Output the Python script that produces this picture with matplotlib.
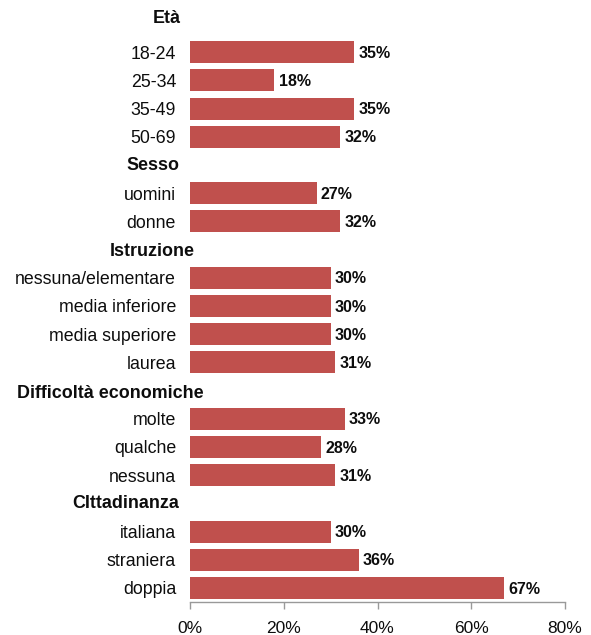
import matplotlib
matplotlib.use("Agg")
import matplotlib.pyplot as plt
import matplotlib.transforms as mtransforms

plt.rcParams['font.family'] = ['Liberation Sans', 'DejaVu Sans']

# Group headers and the rows beneath each
groups = ["Età", "Sesso", "Istruzione", "Difficoltà economiche", "CIttadinanza"]
eta_labels = ["18-24", "25-34", "35-49", "50-69"]
eta_values = [35, 18, 35, 32]
sesso_labels = ["uomini", "donne"]
sesso_values = [27, 32]
istruzione_labels = ["nessuna/elementare", "media inferiore", "media superiore", "laurea"]
istruzione_values = [30, 30, 30, 31]
difficolta_labels = ["molte", "qualche", "nessuna"]
difficolta_values = [33, 28, 31]
cittadinanza_labels = ["italiana", "straniera", "doppia"]
cittadinanza_values = [30, 36, 67]

x_ticks = [0, 20, 40, 60, 80]
x_tick_labels = ["0%", "20%", "40%", "60%", "80%"]

blocks = [
    (eta_labels, eta_values),
    (sesso_labels, sesso_values),
    (istruzione_labels, istruzione_values),
    (difficolta_labels, difficolta_values),
    (cittadinanza_labels, cittadinanza_values),
]

# header horizontal placement (figure pixels from left) and small vertical nudge
header_x_px = [153, 126, 110, 17, 72]
header_dy = [-0.2, 0.0, 0.05, 0.1, 0.0]

bar_color = "#C0504D"
text_color = "#0d0d0d"
W, H = 591, 635
fig = plt.figure(figsize=(W / 100, H / 100), dpi=100)
ax = fig.add_axes([190 / W, (H - 602) / H, 375 / W, 592 / H])

pos = 0
header_pos = []
bar_pos, bar_vals, bar_labels = [], [], []
for labels, values in blocks:
    header_pos.append(pos)
    pos += 1
    for lab, v in zip(labels, values):
        bar_pos.append(pos)
        bar_vals.append(v)
        bar_labels.append(lab)
        pos += 1

ax.barh(bar_pos, bar_vals, height=0.78, color=bar_color, zorder=2)
for p, v in zip(bar_pos, bar_vals):
    ax.text(v + 0.9, p + 0.04, f"{v}%", va="center", ha="left", fontsize=11.5,
            fontweight="bold", color=text_color)

ax.set_ylim(pos - 0.5, -0.5)
ax.set_xlim(0, 80)
ax.set_yticks(bar_pos)
ax.set_yticklabels(bar_labels, fontsize=12.8, color=text_color)
ax.tick_params(axis="y", length=0, pad=10)

ax.set_xticks(x_ticks)
ax.set_xticklabels(x_tick_labels, fontsize=12.5, color=text_color)
ax.tick_params(axis="x", length=5, width=1, color="#999999", direction="out", pad=9)

for s in ["top", "right", "left"]:
    ax.spines[s].set_visible(False)
ax.spines["bottom"].set_color("#999999")
ax.spines["bottom"].set_linewidth(1)

header_trans = mtransforms.blended_transform_factory(fig.transFigure, ax.transData)
for g, hp, xp, dy in zip(groups, header_pos, header_x_px, header_dy):
    ax.text(xp / W, hp + dy, g, transform=header_trans,
            ha="left", va="center", fontsize=12.9, fontweight="bold", color=text_color)

fig.savefig("out.png", dpi=100)
